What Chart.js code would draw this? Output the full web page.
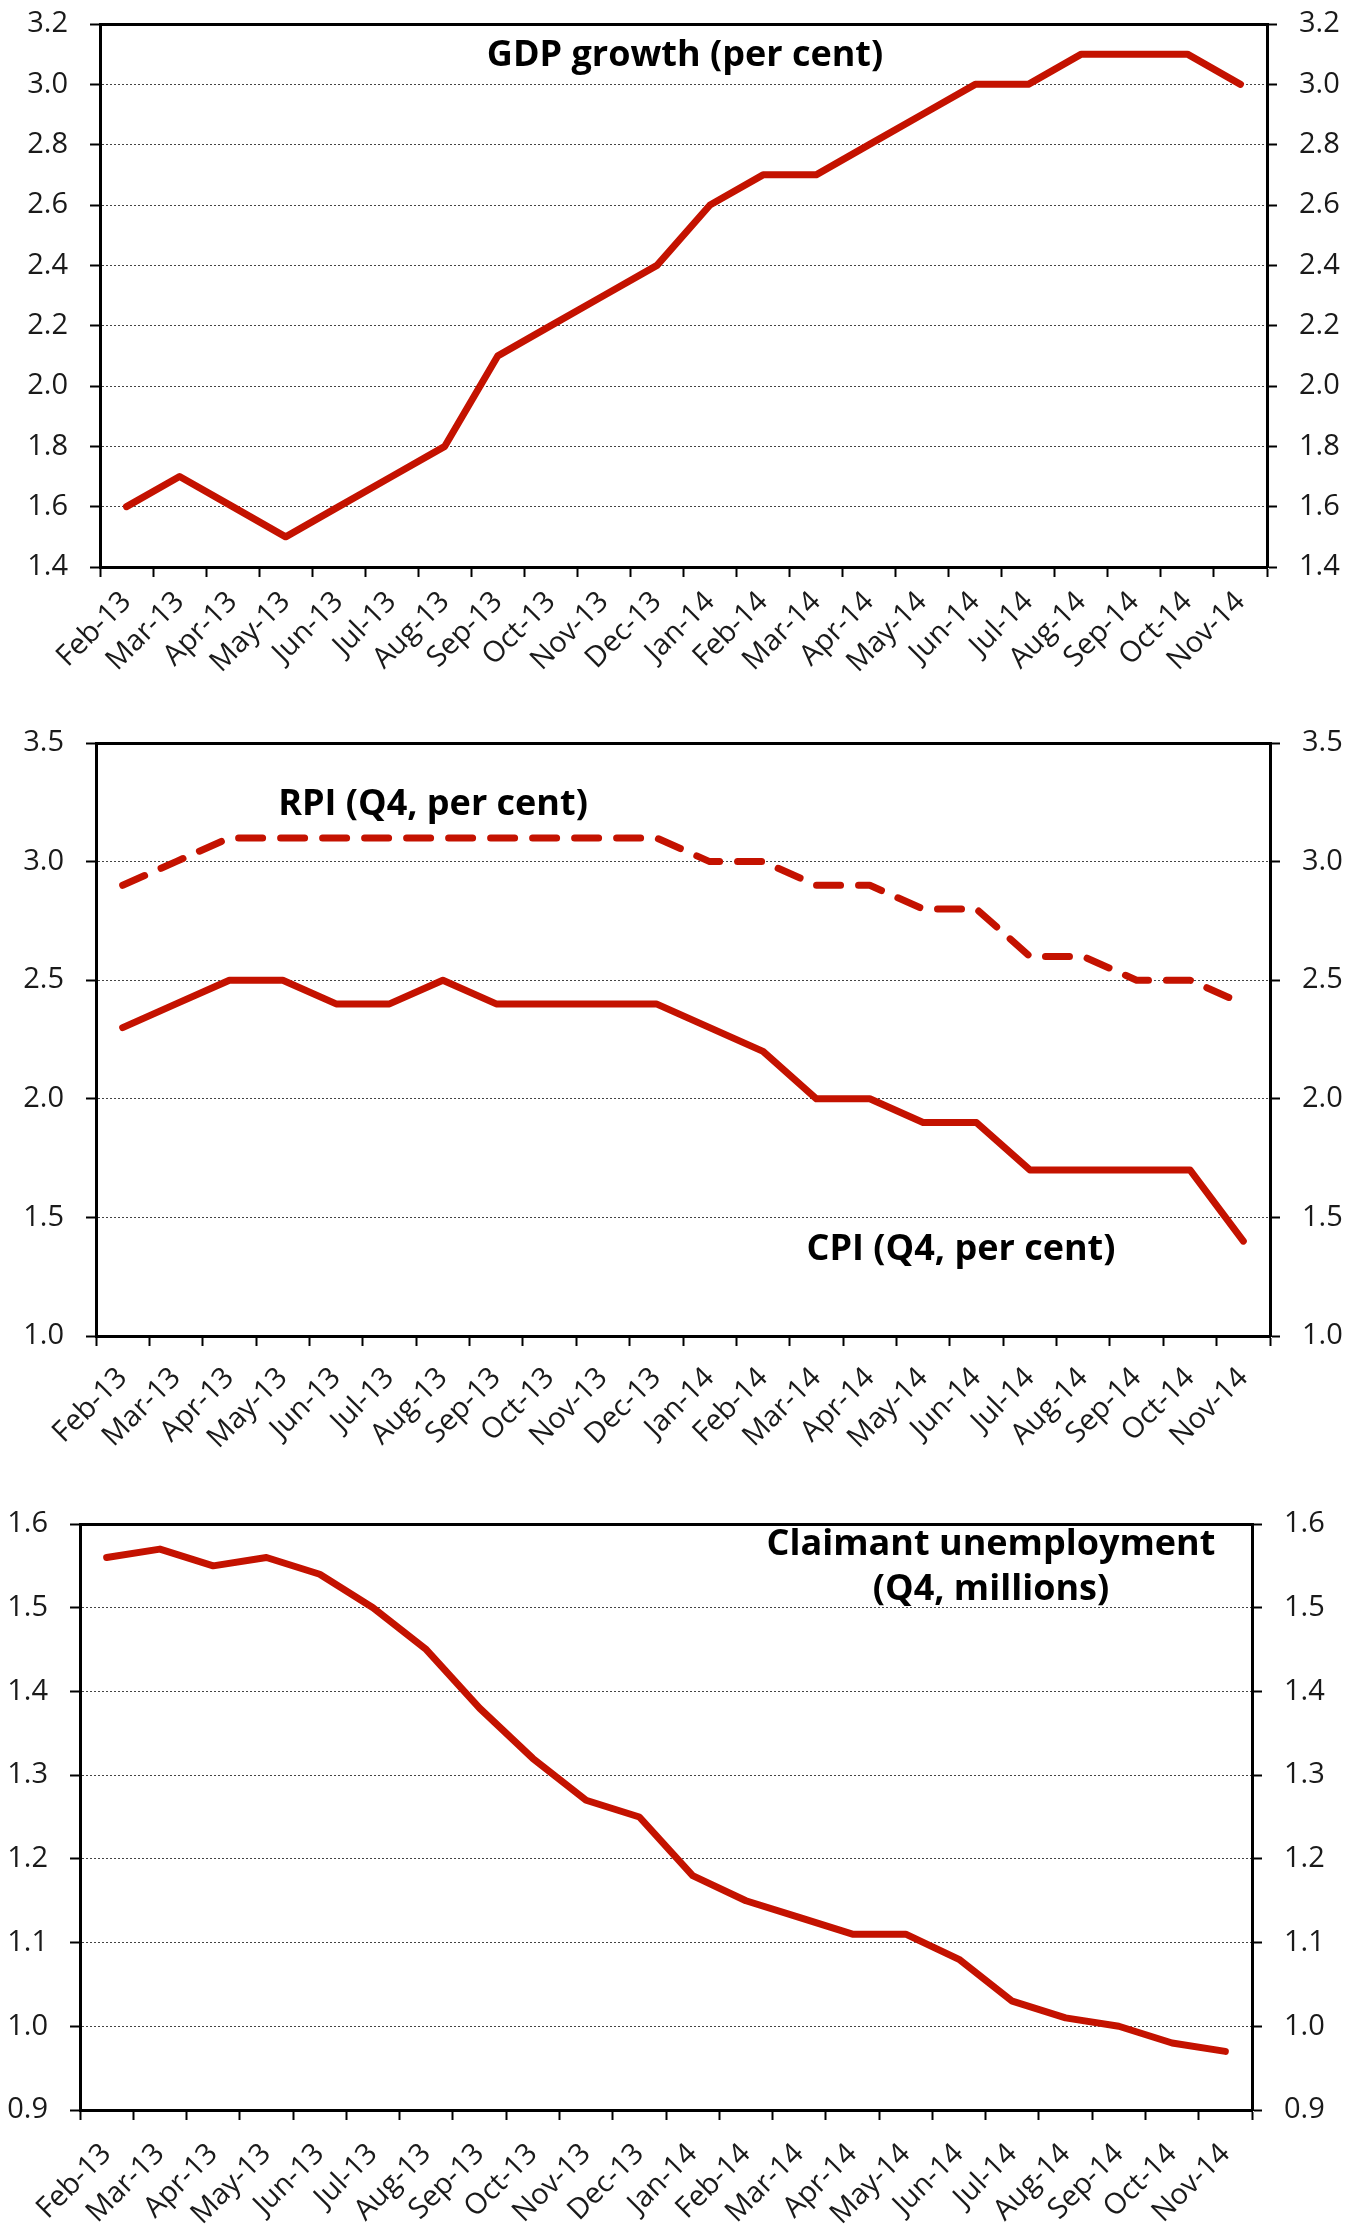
<!DOCTYPE html>
<html><head><meta charset="utf-8">
<script src="https://cdn.jsdelivr.net/npm/chart.js@4.4.1/dist/chart.umd.min.js"></script>
<style>
html,body{margin:0;padding:0;background:#fff;}
body{width:1353px;height:2225px;position:relative;overflow:hidden;font-family:"Open Sans",sans-serif;}
canvas{position:absolute;left:0;}
.title{position:absolute;font-weight:bold;color:#000;font-size:36px;line-height:1;white-space:nowrap;transform:translateX(-50%);text-align:center;font-family:"Open Sans",sans-serif;}
</style></head><body>
<canvas id="c1" width="1353" height="700" style="top:0px"></canvas>
<canvas id="c2" width="1353" height="780" style="top:700px"></canvas>
<canvas id="c3" width="1353" height="745" style="top:1480px"></canvas>
<div class="title" style="left:685px;top:35px">GDP growth (per cent)</div>
<div class="title" style="left:433px;top:784px">RPI (Q4, per cent)</div>
<div class="title" style="left:961px;top:1229px">CPI (Q4, per cent)</div>
<div class="title" style="left:991px;top:1519px;line-height:45px">Claimant unemployment<br>(Q4, millions)</div>
<script>
// ---- data ----
const months = ['Feb-13','Mar-13','Apr-13','May-13','Jun-13','Jul-13','Aug-13','Sep-13','Oct-13','Nov-13','Dec-13',
                'Jan-14','Feb-14','Mar-14','Apr-14','May-14','Jun-14','Jul-14','Aug-14','Sep-14','Oct-14','Nov-14'];
const gdpGrowth = [1.6,1.7,1.6,1.5,1.6,1.7,1.8,2.1,2.2,2.3,2.4,2.6,2.7,2.7,2.8,2.9,3.0,3.0,3.1,3.1,3.1,3.0];
const rpiQ4 = [2.9,3.0,3.1,3.1,3.1,3.1,3.1,3.1,3.1,3.1,3.1,3.0,3.0,2.9,2.9,2.8,2.8,2.6,2.6,2.5,2.5,2.4];
const cpiQ4 = [2.3,2.4,2.5,2.5,2.4,2.4,2.5,2.4,2.4,2.4,2.4,2.3,2.2,2.0,2.0,1.9,1.9,1.7,1.7,1.7,1.7,1.4];
const claimantQ4 = [1.56,1.57,1.55,1.56,1.54,1.50,1.45,1.38,1.32,1.27,1.25,1.18,1.15,1.13,1.11,1.11,1.08,1.03,1.01,1.00,0.98,0.97];
const gdpAxis = {min:1.4, max:3.2, step:0.2};
const inflAxis = {min:1.0, max:3.5, step:0.5};
const claimAxis = {min:0.9, max:1.6, step:0.1};

const RED = '#c41200';
const FONT = {family:'"Open Sans", sans-serif', size:29};
const TXT = '#1a1a1a';

function yScale(pos, ax, width){
  return {
    type:'linear', position:pos, min:ax.min, max:ax.max,
    afterFit: s => { s.width = width; s.paddingTop = 0; s.paddingBottom = 0; },
    ticks:{stepSize:ax.step, padding:22, color:TXT, font:FONT, callback:v=>Number(v).toFixed(1)},
    grid:{drawOnChartArea: pos==='left', color:'#444', lineWidth:1, tickLength:10, tickColor:'#000', tickWidth:2, tickBorderDash:[]},
    border:{display:true, color:'#000', width:3, dash:[2,2]}
  };
}
function xScale(h, pad){
  return {
    type:'category', position:'bottom', offset:true,
    afterFit: s => { s.height = h; s.paddingLeft = 0; s.paddingRight = 0; },
    ticks:{autoSkip:false, minRotation:45, maxRotation:45, padding:pad, color:TXT, font:FONT},
    grid:{offset:true, drawOnChartArea:false, tickLength:10, tickColor:'#000', tickWidth:2, tickBorderDash:[]},
    border:{display:true, color:'#000', width:3}
  };
}
function topScale(){
  return {
    type:'category', position:'top', offset:true,
    afterFit: s => { s.height = 0; s.paddingLeft = 0; s.paddingRight = 0; },
    ticks:{display:false}, grid:{display:false, drawTicks:false},
    border:{display:true, color:'#000', width:3}
  };
}
function lineDs(data, dash){
  return {data, borderColor:RED, backgroundColor:RED, borderWidth:7, pointRadius:0, tension:0, fill:false,
          borderCapStyle:'round', borderJoinStyle:'round', borderDash:dash||[], yAxisID:'y', xAxisID:'x'};
}
function makeChart(id, datasets, ax, padTop, leftW, rightW, xH, xPad){
  return new Chart(document.getElementById(id), {
    type:'line',
    data:{labels:months, datasets},
    options:{
      responsive:false, animation:false, devicePixelRatio:1,
      layout:{padding:{top:padTop, left:0, right:0, bottom:0}},
      plugins:{legend:{display:false}, tooltip:{enabled:false}},
      scales:{ x:xScale(xH, xPad), xTop:topScale(), y:yScale('left', ax, leftW), y2:yScale('right', ax, rightW) }
    }
  });
}
makeChart('c1', [lineDs(gdpGrowth)], gdpAxis, 24, 100, 1353-1267, 700-567, 8);
makeChart('c2', [lineDs(rpiQ4,[24,18]), lineDs(cpiQ4)], inflAxis, 43, 96, 1353-1270, 780-636, 15);
makeChart('c3', [lineDs(claimantQ4)], claimAxis, 44, 80, 1353-1252, 745-630, 17);
</script>
</body></html>
